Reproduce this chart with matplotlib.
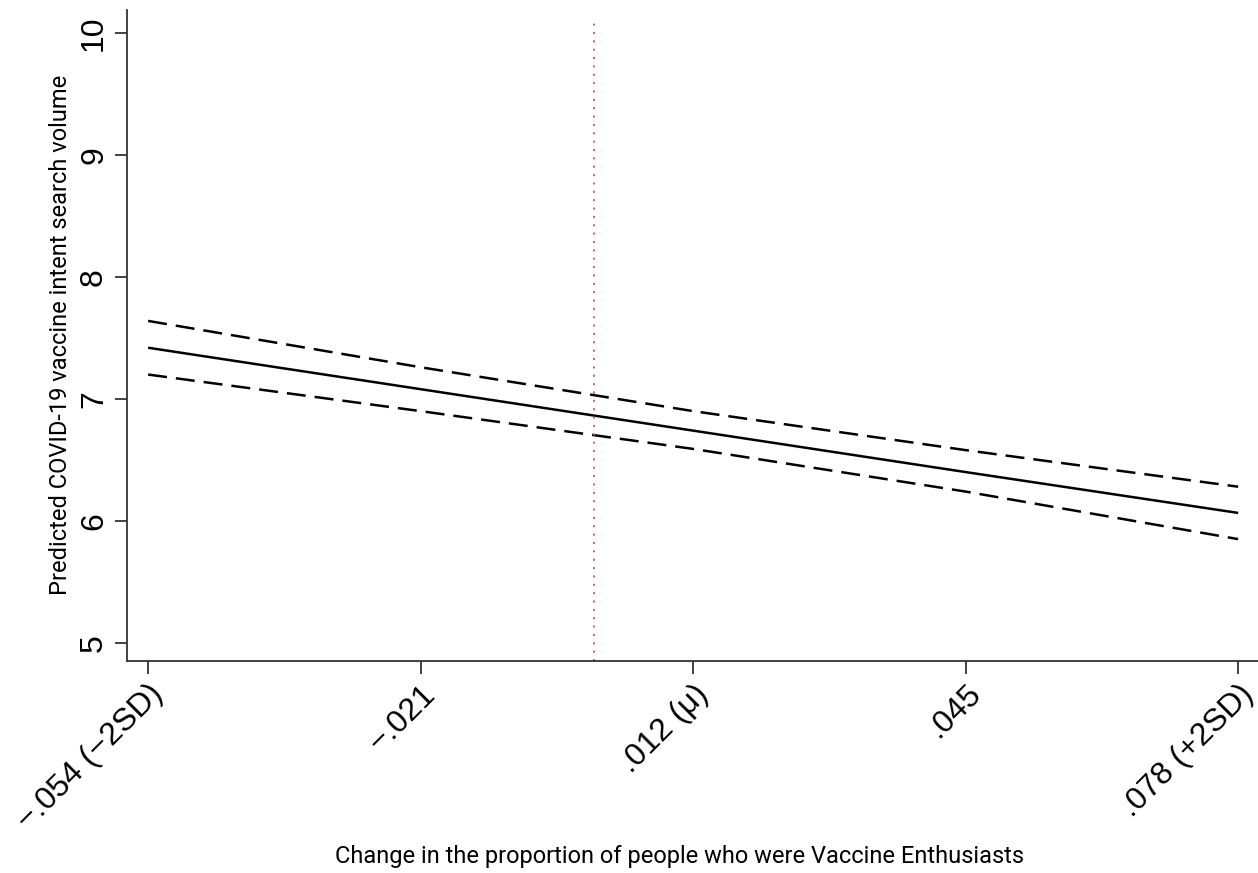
import numpy as np
import matplotlib.pyplot as plt

# Predicted values (margins) at -2SD ... +2SD of the change in Vaccine Enthusiasts
x_vals = [-0.054, -0.021, 0.012, 0.045, 0.078]
x_labels = ['\u2212.054 (\u22122SD)', '\u2212.021', '.012 (\u03bc)', '.045', '.078 (+2SD)']
pred = [7.42, 7.08, 6.74, 6.40, 6.065]
ci_upper = [7.64, 7.26, 6.90, 6.58, 6.28]
ci_lower = [7.20, 6.90, 6.59, 6.24, 5.85]
ref_x = 0.0
y_ticks = [5, 6, 7, 8, 9, 10]

tick_font = ['Liberation Sans', 'DejaVu Sans']
title_font = ['Liberation Sans Narrow', 'Roboto', 'DejaVu Sans']

fig = plt.figure(figsize=(12.58, 8.73), dpi=100, facecolor='white')
ax = fig.add_axes([0.101, 0.2428, 0.899, 0.7457])

# main prediction and confidence bounds
ax.plot(x_vals, pred, color='black', lw=1.8, solid_capstyle='butt')
ax.plot(x_vals, ci_upper, color='black', lw=1.8, dashes=(7.6, 3.6))
ax.plot(x_vals, ci_lower, color='black', lw=1.8, dashes=(7.6, 3.6))

# reference line at zero change
ax.axvline(ref_x, color='#e0507a', lw=1.4, dashes=(1.0, 3.3), ymax=0.985)

ax.set_xlim(-0.05655, 0.0804)
ax.set_ylim(4.85, 10.19)

ax.set_xticks(x_vals)
ax.set_xticklabels(x_labels, rotation=45, ha='right', va='top', rotation_mode='anchor',
                   fontsize=23, family=tick_font)
ax.set_yticks(y_ticks)
ax.set_yticklabels([str(v) for v in y_ticks], rotation=90, va='center', fontsize=23,
                   family=tick_font)

for side in ['top', 'right']:
    ax.spines[side].set_visible(False)
for side in ['left', 'bottom']:
    ax.spines[side].set_linewidth(1.3)
    ax.spines[side].set_color('#333333')
ax.tick_params(axis='both', length=9, width=1.3, color='#333333', pad=4)

fig.text(0.048, 0.616, 'Predicted COVID-19 vaccine intent search volume', rotation=90,
         ha='center', va='center', fontsize=17, family=title_font)
fig.text(0.540, 0.006, 'Change in the proportion of people who were Vaccine Enthusiasts',
         ha='center', va='bottom', fontsize=17, family=title_font)

fig.savefig('out.png', dpi=100, facecolor='white')
